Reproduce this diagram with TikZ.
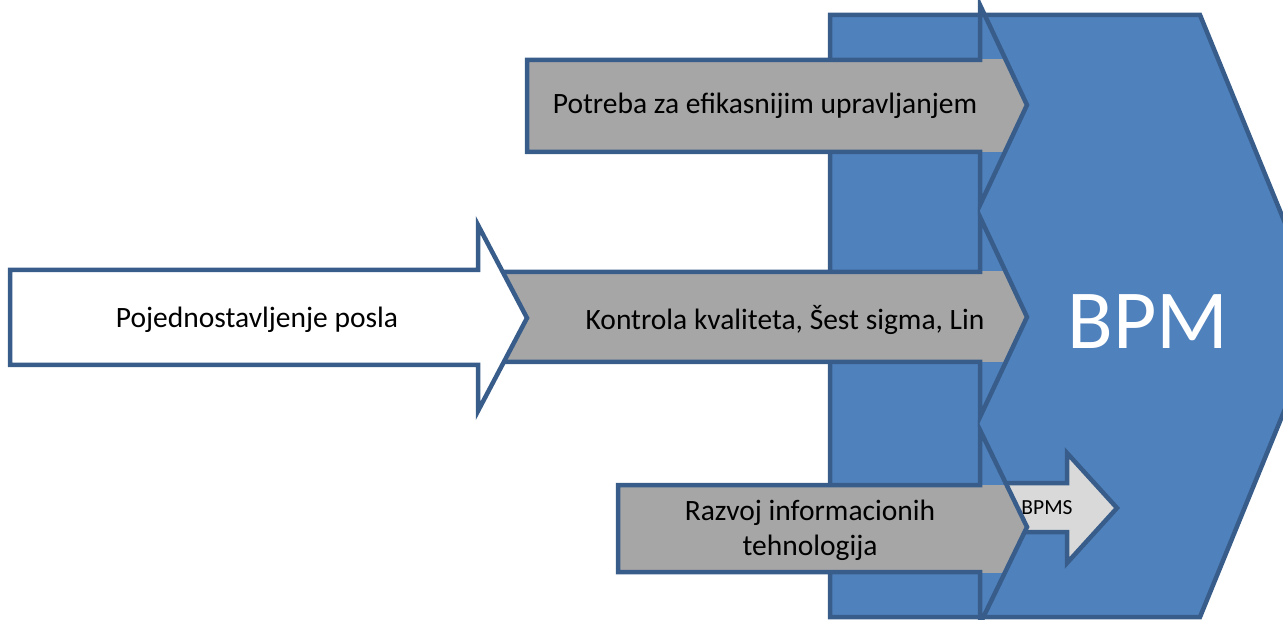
\documentclass[tikz,border=0pt]{standalone}
\usepackage{fontspec}
\setmainfont{Carlito}
\definecolor{bpmblue}{HTML}{4F81BD}
\definecolor{bpmedge}{HTML}{385D8A}
\definecolor{arrowgray}{HTML}{A6A6A6}
\definecolor{lightgray}{HTML}{D9D9D9}
\begin{document}
\begin{tikzpicture}[x=1pt,y=-1pt,
  outline/.style={draw=bpmedge,line width=4.5pt,line join=miter},
  label/.style={inner sep=0pt,font=\fontsize{29.5}{35}\selectfont,align=center},
]
\useasboundingbox (0,0) rectangle (1283,620);
\begin{scope}
\clip (0,0) rectangle (1283,620);

% large BPM chevron
\path[outline,fill=bpmblue] (830,15) -- (1200,15) -- (1323,316) -- (1200,617) -- (830,617) -- cycle;
\node[inner sep=0pt,text=white,font=\fontsize{84}{90}\selectfont] (bpm) at (1148,322) {BPM};

% upper grey arrow: grey only across the body band, head shoulders left open
\begin{scope}
  \clip (0,60) rectangle (1283,152);
  \fill[arrowgray] (527,60) -- (980,60) -- (980,5) -- (1027,105) -- (980,205) -- (980,152) -- (527,152) -- cycle;
\end{scope}
\draw[outline] (527,60) -- (980,60) -- (980,5) -- (1027,105) -- (980,205) -- (980,152) -- (527,152) -- cycle;
\node[label] (potreba) at (765,106) {Potreba za efikasnijim upravljanjem};

% middle grey arrow
\begin{scope}
  \clip (0,272) rectangle (1283,362);
  \fill[arrowgray] (450,272) -- (980,272) -- (980,217) -- (1027,317) -- (980,417) -- (980,362) -- (450,362) -- cycle;
\end{scope}
\draw[outline] (450,272) -- (980,272) -- (980,217) -- (1027,317) -- (980,417) -- (980,362) -- (450,362) -- cycle;
\node[label] (kontrola) at (785,320) {Kontrola kvaliteta, Šest sigma, Lin};

% white arrow in front of the middle one
\path[outline,fill=white] (10,270) -- (478,270) -- (478,225) -- (527,318) -- (478,411) -- (478,365) -- (10,365) -- cycle;
\node[label] (pojed) at (257,320) {Pojednostavljenje posla};

% small BPMS arrow, its tail tucked under the lower grey arrowhead
\path[outline,fill=lightgray] (1006,483) -- (1067,483) -- (1067,453) -- (1117,508) -- (1067,563) -- (1067,532) -- (1006,532) -- cycle;
\node[inner sep=0pt,font=\fontsize{21.5}{24}\selectfont] (bpms) at (1047,508) {BPMS};

% lower grey arrow
\begin{scope}
  \clip (0,485) rectangle (1283,572);
  \fill[arrowgray] (618,485) -- (980,485) -- (980,430) -- (1027,527) -- (980,624) -- (980,572) -- (618,572) -- cycle;
\end{scope}
\draw[outline] (618,485) -- (980,485) -- (980,430) -- (1027,527) -- (980,624) -- (980,572) -- (618,572) -- cycle;
\node[label] (razvoj) at (810,530) {Razvoj informacionih\\tehnologija};
\end{scope}
\end{tikzpicture}
\end{document}
